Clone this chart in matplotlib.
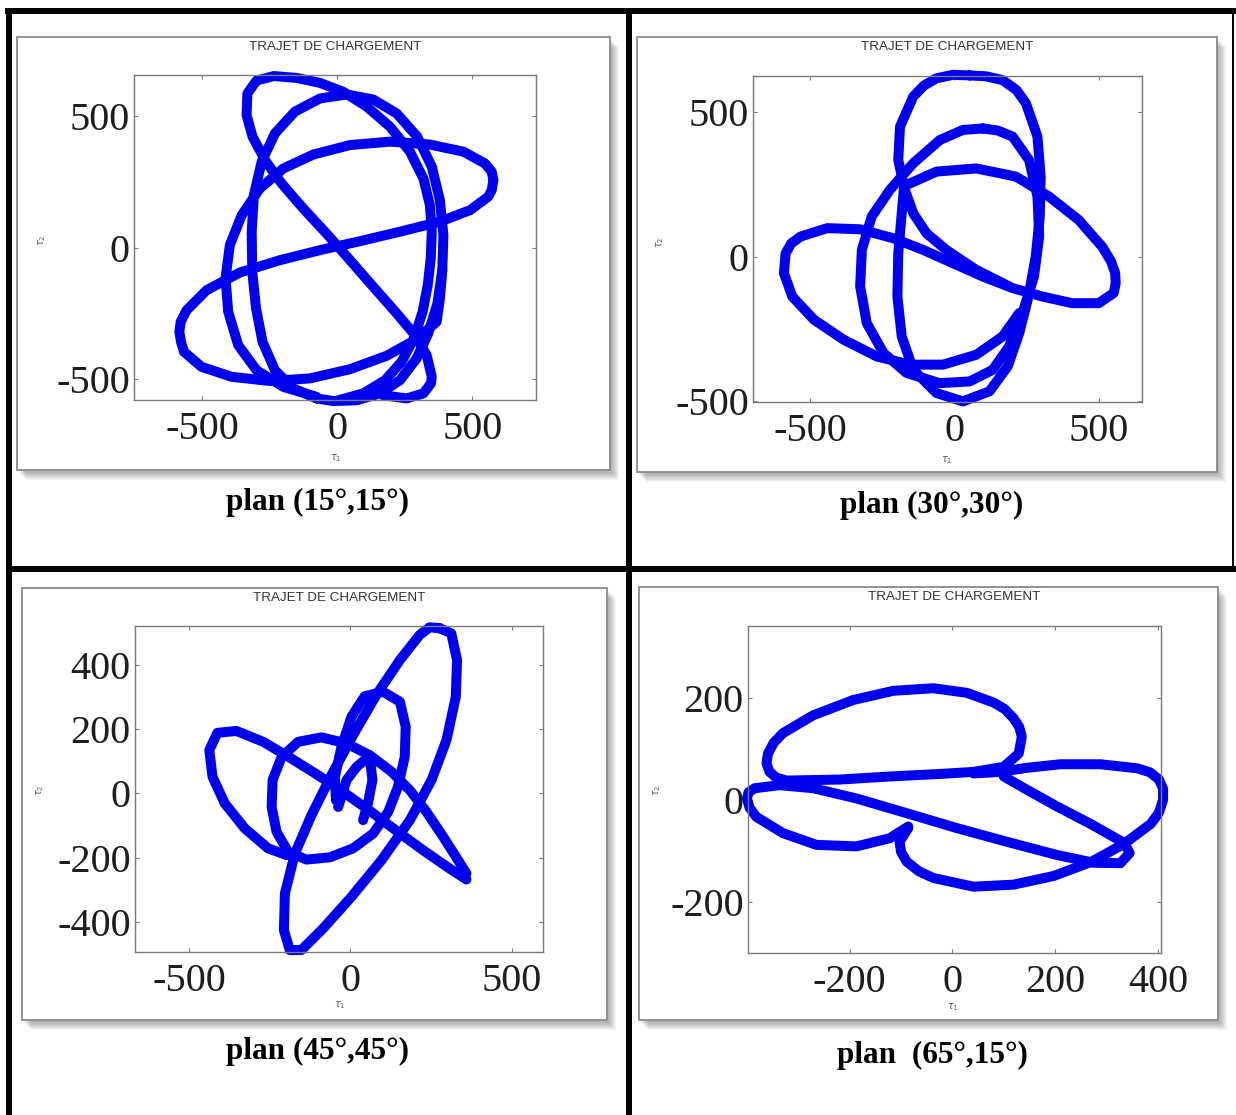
import matplotlib

matplotlib.use("Agg")
import matplotlib.pyplot as plt
from matplotlib.patches import Rectangle

W, H = 1236, 1115

# loading paths, one list of strokes per plane (tau1, tau2)
tau1_15 = [
    [170, 257, 319, 347, 350, 331, 288, 220, 133, 47, -40, -126, -206, -268, -314, -336, -333, -299, -235,
     -151, -64, 22, 109, 195, 269, 319, 343, 350, 346, 335, 316, 284, 238, 177, 96, 4],
    [-77, -163, -231, -277, -301, -315, -317, -309, -280, -231, -157, -64, 35, 133, 220, 296, 350, 380, 393,
     389, 371, 337, 294, 232, 158, 72, -15, -77],
    [578, 572, 547, 467, 343, 195, 47, -89, -200, -287, -354, -398, -414, -404, -367, -299, -200, -77],
    [578, 572, 559, 492, 380, 232, 84, -64, -212, -361, -484, -558, -580, -585, -579, -568, -503, -391, -249,
     -101, 47, 183, 294, 368, 380, 389],
]
tau2_15 = [
    [-560, -572, -553, -515, -490, -408, -332, -249, -148, -47, 54, 149, 244, 333, 422, 504, 586, 635, 652,
     645, 626, 592, 536, 460, 365, 263, 162, 61, -41, -142, -243, -344, -433, -503, -553, -579],
    [-572, -534, -465, -357, -230, -91, 61, 200, 327, 434, 517, 567, 582, 563, 510, 422, 308, 181, 48,
     -85, -211, -325, -420, -503, -553, -579, -582, -572],
    [257, 289, 320, 365, 392, 403, 390, 354, 301, 225, 124, 10, -116, -243, -370, -465, -528, -566],
    [257, 219, 194, 143, 99, 61, 25, -9, -47, -94, -161, -237, -281, -319, -357, -395, -452, -490, -506,
     -496, -461, -410, -347, -281, -192, -85],
]

tau1_30 = [
    [53, 110, 167, 215, 248, 288, 299, 296, 282, 257, 225, 185, 122, 30, -62, -142, -182, -197, -194, -182,
     -174, -194, -188, -142, -105, -62, -5, 53],
    [99, 150, 202, 259, 288, 294, 276, 236, 190, 133, 53, -50, -165, -245, -303, -326, -320, -286, -223,
     -142, -50, 30, 99],
    [-165, -62, 76, 213, 328, 431, 512, 543, 557, 559, 552, 500, 408, 305, 202, 99, -5, -108, -211, -326,
     -440, -532, -565, -584, -590, -561, -486, -383, -268, -154, -39, 76, 167, 225],
    [-171, -142, -96, -28, 76, 190],
]
tau2_30 = [
    [625, 622, 609, 575, 529, 414, 276, 138, 0, -138, -264, -379, -465, -500, -471, -391, -276, -138, 11,
     149, 241, 333, 448, 552, 590, 615, 627, 625],
    [442, 435, 414, 333, 207, 69, -69, -195, -310, -391, -431, -437, -402, -333, -230, -103, 23, 138, 230,
     322, 402, 437, 442],
    [247, 293, 304, 276, 207, 126, 34, -17, -57, -92, -126, -161, -161, -138, -109, -69, -23, 23, 63, 94,
     98, 69, 45, 11, -57, -138, -218, -287, -345, -373, -373, -339, -276, -195],
    [230, 149, 80, 23, -46, -103],
]

tau1_45 = [
    [276, 312, 330, 326, 297, 251, 184, 96, 3, -85, -152, -188, -206, -203, -172, -121, -59, 8, 80, 153,
     214, 245, 276],
    [359, 307, 225, 142, 60, -23, -105, -188, -270, -353, -412, -437, -427, -389, -327, -255, -198],
    [359, 333, 287, 235, 184, 127, 60, -12, -90, -162, -213, -241, -244, -229, -193, -136, -64, 8, 70, 117,
     147, 168, 171, 153, 101, 44, 3, -28, -48, -45],
    [-38, -12, 19, 44, 62, 68, 55, 39],
]
tau2_45 = [
    [515, 499, 416, 301, 166, 42, -83, -208, -322, -421, -488, -488, -426, -312, -187, -68, 57, 182, 307,
     416, 494, 518, 515],
    [-268, -234, -177, -116, -54, 5, 60, 112, 161, 195, 189, 135, 52, -31, -109, -171, -192],
    [-249, -208, -135, -57, 10, 68, 119, 156, 175, 161, 114, 42, -42, -119, -182, -206, -199, -171, -125,
     -57, 21, 114, 208, 286, 317, 303, 239, 145, 52, -21],
    [-42, 42, 83, 104, 94, 42, -26, -83],
]

tau1_65 = [
    [-86, -103, -100, -89, -65, -37, 41, 119, 197, 269, 334, 386, 402, 410, 410, 402, 385, 360, 288, 210,
     145, 93, 41],
    [41, 100, 129, 135, 130, 119, 102, 80, 28, -37, -115, -193, -271, -330, -348, -359, -362, -356, -343,
     -323, -219, -122, -24, 41],
    [-86, -122, -187, -265, -330, -382, -395, -400, -397, -385, -336, -271, -187, -89, 8, 106, 204, 275,
     327, 345, 334, 269, 204, 145, 100],
]
tau2_65 = [
    [-55, -82, -102, -121, -140, -153, -170, -166, -149, -122, -86, -47, -25, 0, 22, 40, 54, 62, 70, 70,
     63, 55, 52],
    [55, 65, 91, 124, 143, 160, 178, 191, 210, 219, 214, 196, 166, 131, 112, 91, 72, 55, 44, 38, 40, 46,
     51, 55],
    [-52, -75, -91, -88, -65, -33, -15, 3, 15, 23, 29, 23, 3, -26, -55, -82, -108, -123, -124, -104, -84,
     -47, -13, 20, 46],
]

xticks_15, yticks_15 = [-500, 0, 500], [-500, 0, 500]
xticks_30, yticks_30 = [-500, 0, 500], [-500, 0, 500]
xticks_45, yticks_45 = [-500, 0, 500], [-400, -200, 0, 200, 400]
xticks_65, yticks_65 = [-200, 0, 200, 400], [-200, 0, 200]

captions = ["plan (15°,15°)", "plan (30°,30°)", "plan (45°,45°)", "plan  (65°,15°)"]
title = "TRAJET DE CHARGEMENT"

plt.rcParams["axes.unicode_minus"] = False
plt.rcParams["font.family"] = "serif"
plt.rcParams["font.serif"] = ["Liberation Serif", "DejaVu Serif"]
plt.rcParams["mathtext.fontset"] = "dejavusans"

fig = plt.figure(figsize=(W / 100, H / 100), dpi=100)
bg = fig.add_axes([0, 0, 1, 1])
bg.set_xlim(0, W)
bg.set_ylim(H, 0)
bg.axis("off")

# table rules
for x, y, w, h in [(5, 8, 1231, 6), (6, 8, 6, H - 8), (626, 8, 6, H - 8), (6, 566, 1230, 6), (1232, 8, 2, 558)]:
    bg.add_patch(Rectangle((x, y), w, h, facecolor="black", lw=0))

panels = [
    # frame (x0, y0, x1, y1), axes box, caption xy, tau1 xy, tau2 xy, limits
    dict(frame=(17, 37, 610, 470), box=(134, 75, 536, 400), cap=(318, 502), lx=(336, 458), ly=(42, 240),
         xlim=(-753, 736), ylim=(-578, 656), t1=tau1_15, t2=tau2_15, xt=xticks_15, yt=yticks_15),
    dict(frame=(637, 37, 1217, 472), box=(753, 76, 1142, 402), cap=(932, 505), lx=(947, 460), ly=(660, 242),
         xlim=(-697, 650), ylim=(-502, 623), t1=tau1_30, t2=tau2_30, xt=xticks_30, yt=yticks_30),
    dict(frame=(22, 588, 607, 1020), box=(135, 626, 543, 952), cap=(318, 1051), lx=(340, 1005), ly=(40, 790),
         xlim=(-667, 596), ylim=(-494, 522), t1=tau1_45, t2=tau2_45, xt=xticks_45, yt=yticks_45),
    dict(frame=(639, 587, 1218, 1020), box=(748, 626, 1161, 953), cap=(932, 1055), lx=(953, 1007), ly=(657, 790),
         xlim=(-398, 406), ylim=(-300, 341), t1=tau1_65, t2=tau2_65, xt=xticks_65, yt=yticks_65),
]

for i, p in enumerate(panels):
    fx0, fy0, fx1, fy1 = p["frame"]
    # soft drop shadow then the white window
    for k in range(1, 9):
        bg.add_patch(Rectangle((fx0 + k + 1, fy0 + k + 2), fx1 - fx0, fy1 - fy0,
                               facecolor="black", alpha=0.04, lw=0))
    bg.add_patch(Rectangle((fx0, fy0), fx1 - fx0, fy1 - fy0, facecolor="white",
                           edgecolor="#8a8a8a", lw=1.3))

    bx0, by0, bx1, by1 = p["box"]
    ax = fig.add_axes([bx0 / W, 1 - by1 / H, (bx1 - bx0) / W, (by1 - by0) / H])
    ax.set_facecolor("none")
    for a, b in zip(p["t1"], p["t2"]):
        ax.plot(a, b, color="#0000ee", lw=7.2, solid_joinstyle="round", solid_capstyle="round",
                clip_on=False)
    ax.set_xlim(*p["xlim"])
    ax.set_ylim(*p["ylim"])
    ax.set_xticks(p["xt"])
    ax.set_yticks(p["yt"])
    ax.tick_params(direction="in", length=3, width=0.8, color="#7a7a7a", top=True, right=True,
                   pad=3, labelsize=29, labelcolor="#1e1e1e")
    ax.tick_params(axis="x", pad=8)
    for s in ax.spines.values():
        s.set_color("#7a7a7a")
        s.set_linewidth(1.0)

    bg.text((bx0 + bx1) / 2, fy0 + 10, title, ha="center", va="center", fontsize=9.6,
            family="Liberation Sans", color="#333333")
    bg.text(*p["lx"], r"$\tau_1$", ha="center", va="center", fontsize=7, color="#555555")
    bg.text(*p["ly"], r"$\tau_2$", ha="center", va="center", fontsize=7, color="#555555", rotation=90)
    bg.text(*p["cap"], captions[i], ha="center", va="center", fontsize=22.5, fontweight="bold",
            color="black")

fig.savefig("out.png", dpi=100)
